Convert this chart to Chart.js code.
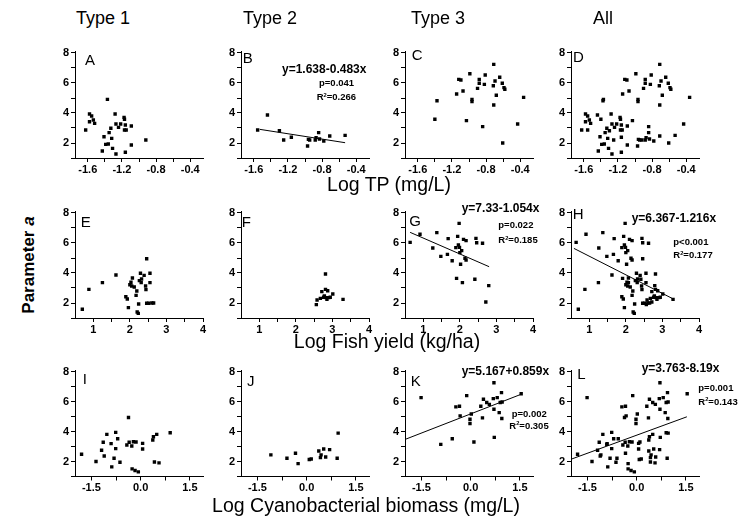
<!DOCTYPE html>
<html><head><meta charset="utf-8">
<script src="https://cdn.jsdelivr.net/npm/chart.js@4.4.0/dist/chart.umd.min.js"></script>
<style>
html,body{margin:0;padding:0;background:#fff;}
#wrap{position:relative;width:750px;height:530px;overflow:hidden;font-family:"Liberation Sans",Arial,sans-serif;color:#000;}
canvas{position:absolute;}
.t{position:absolute;white-space:nowrap;line-height:1;color:#000;}
.c{transform:translate(-50%,-50%);}
.b{font-weight:bold;}
sup{font-size:0.6em;vertical-align:0;position:relative;top:-0.65em;}
</style></head><body><div id="wrap"></div>
<script>
// ---------- DATA ----------
const colTitles = ['Type 1','Type 2','Type 3','All'];
const xTitles = ['Log TP (mg/L)','Log Fish yield (kg/ha)','Log Cyanobacterial biomass (mg/L)'];
const panelLetters = ['A','B','C','D','E','F','G','H','I','J','K','L'];

// Row 1: Log TP
const A_x = [-1.625,-1.58,-1.58,-1.555,-1.535,-1.52,-1.43,-1.41,-1.39,-1.37,-1.36,-1.35,-1.33,-1.32,-1.31,-1.28,-1.27,-1.27,-1.24,-1.215,-1.175,-1.17,-1.17,-1.16,-1.16,-1.15,-1.09,-1.09,-0.92];
const A_y = [2.87,3.42,3.93,3.8,3.53,3.31,1.47,2.42,1.91,4.91,1.93,2.69,2.98,2.31,1.64,3.93,3.27,1.27,3.04,3.27,3.71,3.58,2.87,1.38,3.2,2.87,3.13,1.87,2.2];
const B_x = [-1.555,-1.44,-1.30,-1.25,-1.16,-0.97,-0.96,-0.945,-0.88,-0.87,-0.84,-0.83,-0.78,-0.71,-0.53];
const B_y = [2.87,3.87,2.82,2.2,2.38,1.8,2.24,2.2,2.2,2.36,2.69,2.27,2.13,2.47,2.51];
const C_x = [-1.40,-1.375,-1.145,-1.12,-1.095,-1.07,-1.03,-0.99,-0.965,-0.965,-0.90,-0.88,-0.88,-0.84,-0.82,-0.81,-0.71,-0.715,-0.71,-0.695,-0.68,-0.64,-0.61,-0.59,-0.58,-0.605,-0.43,-0.36];
const C_y = [3.58,4.82,5.27,6.24,6.2,5.47,3.49,6.62,4.91,4.76,5.64,6.24,5.98,3.09,5.91,6.53,7.24,5.82,4.53,6.13,5.18,6.38,5.98,5.69,5.58,2.0,3.27,5.04];

// Row 2: Log Fish yield
const E_x = [0.70,0.88,1.25,1.62,1.89,1.93,1.96,2.0,2.03,2.07,2.05,2.12,2.17,2.19,2.20,2.23,2.24,2.26,2.29,2.31,2.32,2.39,2.43,2.44,2.46,2.46,2.51,2.55,2.55,2.60,2.65];
const E_y = [1.58,2.91,3.36,3.87,2.42,2.27,1.69,3.22,3.38,3.67,3.13,3.07,2.51,2.8,1.4,1.31,1.93,3.49,3.98,3.36,3.6,3.84,3.13,2.89,4.95,1.98,1.98,3.36,3.98,2.0,2.0];
const F_x = [2.56,2.58,2.67,2.71,2.76,2.78,2.81,2.81,2.83,2.85,2.87,2.90,2.94,3.01,3.29];
const F_y = [1.89,2.2,2.31,2.76,2.38,2.47,3.93,2.91,2.36,2.24,2.82,2.36,2.38,2.6,2.24];
const G_x = [0.64,0.91,1.26,1.37,1.48,1.66,1.68,1.79,1.89,1.91,1.94,1.96,1.98,1.99,2.0,2.02,2.05,2.07,2.10,2.14,2.17,2.17,2.41,2.44,2.46,2.62,2.71,2.79];
const G_y = [6.04,6.58,5.67,6.69,5.11,5.24,6.29,4.82,5.69,3.64,6.44,5.87,7.31,5.71,5.36,4.58,5.49,3.36,6.24,4.98,6.16,4.87,3.58,6.31,6.02,5.98,2.07,3.16];

// Row 3: Log Cyanobacterial biomass
const I_x = [-1.80,-1.36,-1.19,-1.14,-1.11,-1.03,-0.90,-0.88,-0.81,-0.76,-0.76,-0.70,-0.63,-0.42,-0.37,-0.35,-0.27,-0.26,-0.22,-0.17,-0.14,-0.07,0.06,0.06,0.37,0.39,0.42,0.49,0.56,0.90];
const I_y = [2.48,2.0,2.75,3.28,2.37,3.81,3.19,1.64,2.22,3.94,2.86,3.52,1.95,3.1,4.93,3.28,3.03,1.51,3.32,1.4,3.3,1.31,3.21,2.83,3.43,3.65,1.97,3.81,1.91,3.92];
const J_x = [-1.09,-0.60,-0.34,-0.26,0.08,0.14,0.37,0.44,0.52,0.42,0.58,0.70,0.93,0.96];
const J_y = [2.44,2.22,2.55,1.86,2.13,2.17,2.7,2.44,2.83,2.26,2.3,2.79,2.22,3.89];
const K_x = [-1.51,-0.91,-0.56,-0.45,-0.34,-0.32,-0.12,-0.02,-0.02,0.02,0.10,0.31,0.36,0.39,0.49,0.57,0.71,0.69,0.71,0.72,0.81,0.87,0.90,0.94,0.95,0.96,1.54];
const K_y = [6.26,3.14,3.52,5.64,5.68,5.04,6.39,4.82,4.53,5.17,3.30,5.68,4.91,6.15,5.93,5.81,7.25,6.19,5.48,3.61,6.26,5.26,5.93,6.59,4.87,5.97,6.52];

// Regression lines (end points)
const fitB_x = [-1.53,-0.53], fitB_y = [2.91,2.02];
const fitG_x = [0.64,2.80],  fitG_y = [6.71,4.42];
const fitH_x = [0.58,3.28],  fitH_y = [5.64,2.29];
const fitK_x = [-2.0,1.56],  fitK_y = [3.47,6.50];
const fitL_x = [-2.0,1.53],  fitL_y = [2.15,4.98];

// Regression annotations
const eqB = ['y=1.638-0.483x','p=0.041','0.266'];
const eqG = ['y=7.33-1.054x','p=0.022','0.185'];
const eqH = ['y=6.367-1.216x','p<0.001','0.177'];
const eqK = ['y=5.167+0.859x','p=0.002','0.305'];
const eqL = ['y=3.763-8.19x','p=0.001','0.143'];

// Ticks
const tpTicks = [-1.6,-1.4,-1.2,-1.0,-0.8,-0.6,-0.4];
const tpLabels = ['-1.6','','-1.2','','-0.8','','-0.4'];
const fishTicks = [1,1.5,2,2.5,3,3.5,4];
const fishLabels = ['1','','2','','3','','4'];
const cyTicks = [-1.5,-0.75,0,0.75,1.5];
const cyLabels = ['-1.5','','0.0','','1.5'];
const yTicks = [1,2,3,4,5,6,7,8];
const yLabels = ['','2','','4','','6','','8'];

// ---------- LAYOUT ----------
const FONT = '"Liberation Sans", Arial, sans-serif';
const wrap = document.getElementById('wrap');
const COL_LEFT = [75, 241, 405, 571];
const ROW_TOP = [51.5, 211.5, 370];
const PLOT_W = 128, PLOT_H = 106.5;
const X_RANGE = [[-1.75,-0.25],[0.5,4.0],[-2.0,1.9]];
const Y_RANGE = [1, 8.1];

function pts(xs, ys){ return xs.map((x,i)=>({x:x, y:ys[i]})); }
function scat(xs, ys){ return {data:pts(xs,ys), pointStyle:'rect', pointRadius:2.4, backgroundColor:'#000', borderWidth:0, showLine:false}; }
function fit(xs, ys){ return {data:pts(xs,ys), showLine:true, pointRadius:0, borderColor:'#000', borderWidth:1, fill:false}; }

function panel(col, row, sets, xt, xl){
  const YW = 30, XH = 24, PR = 16;
  const c = document.createElement('canvas');
  const left = COL_LEFT[col] - YW;
  const top = Math.floor(ROW_TOP[row]) - 10;
  const padTop = ROW_TOP[row] - top;
  const w = YW + PLOT_W + PR;
  const h = Math.ceil(padTop + PLOT_H + XH);
  c.width = w; c.height = h;
  c.style.left = left + 'px'; c.style.top = top + 'px';
  c.style.width = w + 'px'; c.style.height = h + 'px';
  wrap.appendChild(c);
  const tickFont = {family: FONT, size: 11, weight: 'bold'};
  new Chart(c, {
    type: 'scatter',
    data: {datasets: sets},
    options: {
      responsive: false, animation: false, devicePixelRatio: 1,
      layout: {padding: {left: 0, top: padTop, right: PR, bottom: h - padTop - PLOT_H - XH}},
      plugins: {legend: {display: false}, tooltip: {enabled: false}},
      scales: {
        x: {
          type: 'linear', min: X_RANGE[row][0], max: X_RANGE[row][1],
          afterBuildTicks: s => { s.ticks = xt.map(v => ({value: v})); },
          afterFit: s => { s.height = XH; },
          ticks: {autoSkip: false, maxRotation: 0, padding: 1, color: '#000', font: tickFont, callback: (v, i) => xl[i]},
          grid: {drawOnChartArea: false, tickLength: 4, color: '#000', lineWidth: 1},
          border: {display: true, color: '#000', width: 1}
        },
        y: {
          type: 'linear', min: Y_RANGE[0], max: Y_RANGE[1],
          afterBuildTicks: s => { s.ticks = yTicks.map(v => ({value: v})); },
          afterFit: s => { s.width = YW; },
          ticks: {autoSkip: false, padding: 2, color: '#000', font: tickFont, callback: (v, i) => yLabels[i]},
          grid: {drawOnChartArea: false, tickLength: 4, color: '#000', lineWidth: 1},
          border: {display: true, color: '#000', width: 1}
        }
      }
    }
  });
}

// Row 1
panel(0,0,[scat(A_x,A_y)], tpTicks, tpLabels);
panel(1,0,[scat(B_x,B_y), fit(fitB_x,fitB_y)], tpTicks, tpLabels);
panel(2,0,[scat(C_x,C_y)], tpTicks, tpLabels);
panel(3,0,[scat(A_x.concat(B_x,C_x), A_y.concat(B_y,C_y))], tpTicks, tpLabels);
// Row 2
panel(0,1,[scat(E_x,E_y)], fishTicks, fishLabels);
panel(1,1,[scat(F_x,F_y)], fishTicks, fishLabels);
panel(2,1,[scat(G_x,G_y), fit(fitG_x,fitG_y)], fishTicks, fishLabels);
panel(3,1,[scat(E_x.concat(F_x,G_x), E_y.concat(F_y,G_y)), fit(fitH_x,fitH_y)], fishTicks, fishLabels);
// Row 3
panel(0,2,[scat(I_x,I_y)], cyTicks, cyLabels);
panel(1,2,[scat(J_x,J_y)], cyTicks, cyLabels);
panel(2,2,[scat(K_x,K_y), fit(fitK_x,fitK_y)], cyTicks, cyLabels);
panel(3,2,[scat(I_x.concat(J_x,K_x), I_y.concat(J_y,K_y)), fit(fitL_x,fitL_y)], cyTicks, cyLabels);

// ---------- TEXT ----------
function txt(html, left, top, size, cls, extra){
  const d = document.createElement('div');
  d.className = 't ' + (cls || '');
  d.innerHTML = html;
  d.style.left = left + 'px'; d.style.top = top + 'px';
  d.style.fontSize = size + 'px';
  if (extra) d.style.cssText += extra;
  wrap.appendChild(d);
}
const titleX = [103, 270, 438, 603];
colTitles.forEach((s,i) => txt(s, titleX[i], 18, 18, 'c'));
const xtPos = [[389,185],[387,342],[366,506]];
xTitles.forEach((s,i) => txt(s, xtPos[i][0], xtPos[i][1], 19.5, 'c'));
txt('Parameter <i>a</i>', 28, 265, 17, 'b', 'transform:translate(-50%,-50%) rotate(-90deg);');

const letterPos = [[85,52],[242.7,50.7],[411.7,47.3],[573,49.7],[80.7,214.7],[241.7,214],[409.3,213],[572.7,206.3],[82.7,371],[247,373.7],[410.7,373],[577.3,366.3]];
panelLetters.forEach((s,i) => txt(s, letterPos[i][0], letterPos[i][1] - 0.3, 15, ''));

function eq(e, p){
  txt(e[0], p[0], p[1] - 5.9, 12, 'b');
  txt(e[1], p[2], p[3] - 4.65, 9.5, 'b');
  txt('R<sup>2</sup>=' + e[2], p[4], p[5] - 4.65, 9.5, 'b');
}
eq(eqB, [282,69, 319,83, 316.7,97]);
eq(eqG, [461.7,208.3, 498.3,224.3, 498.3,240]);
eq(eqH, [631.7,218.3, 673.3,241.7, 673.3,255]);
eq(eqK, [461.7,371, 511.7,413.3, 509.3,425.7]);
eq(eqL, [641.7,368.3, 698.3,387.7, 698.3,401.7]);
</script></body></html>
